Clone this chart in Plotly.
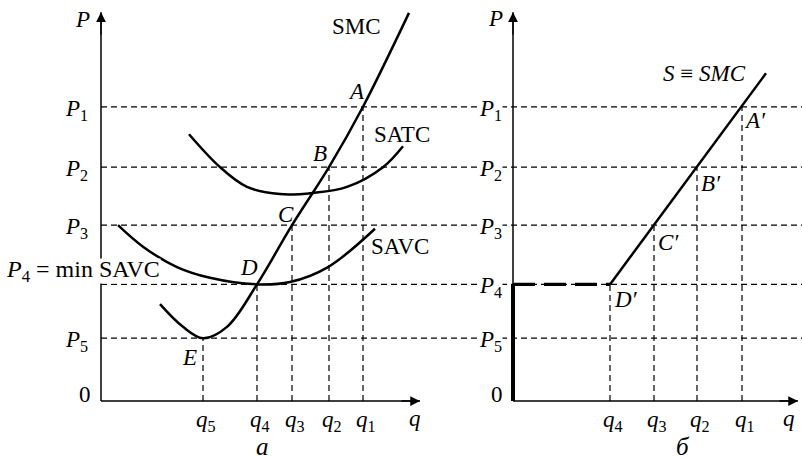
import plotly.graph_objects as go

W, H = 802, 458

# ---------------- data ----------------
P_NAMES = ["1", "2", "3", "4", "5"]
P_LEVELS = [4.92, 3.91, 2.94, 1.95, 1.05]          # P1..P5
Q_NAMES_L = ["1", "2", "3", "4", "5"]
Q_LEFT = [5.24, 4.56, 3.82, 3.12, 2.04]             # q1..q5 (panel a)
Q_NAMES_R = ["1", "2", "3", "4"]
Q_RIGHT = [4.58, 3.68, 2.82, 1.94]                  # q1..q4 (panel б)

POINTS_L = ["A", "B", "C", "D", "E"]
POINTS_R = ["A′", "B′", "C′", "D′"]

SMC_Q = [1.18, 1.64, 2.04, 2.52, 3.12, 3.82, 4.56, 5.24, 6.16]
SMC_P = [1.62, 1.24, 1.05, 1.24, 1.95, 2.94, 3.91, 4.92, 6.49]

SATC_Q = [1.76, 2.38, 2.92, 3.58, 4.24, 4.92, 5.64, 6.04]
SATC_P = [4.46, 3.91, 3.58, 3.46, 3.48, 3.58, 3.91, 4.26]

SAVC_Q = [0.34, 0.84, 1.52, 2.18, 3.12, 3.78, 4.54, 5.48]
SAVC_P = [2.94, 2.58, 2.24, 2.06, 1.95, 1.99, 2.24, 2.88]

SUPPLY_Q = [1.94, 2.82, 3.68, 4.58, 5.06]
SUPPLY_P = [1.95, 2.94, 3.91, 4.92, 5.48]

# ---------------- layout geometry ----------------
FONT = "Liberation Serif"
FS = 23
X_END_L, X_END_R, Y_END = 6.38, 5.70, 6.50
XR_L = [-0.4, 6.6]
XR_R = [-0.4, 5.78]
YR = [-0.25, 6.6]
PXX, PXY = 50.0, 59.8      # px per unit
OX_L, OX_R, OY = 101, 513, 401

def xdom(ox, rng):
    return [max(0, (ox + rng[0] * PXX) / W), min(1, (ox + rng[1] * PXX) / W)]

ydom = [(H - (OY - YR[0] * PXY)) / H, (H - (OY - YR[1] * PXY)) / H]

fig = go.Figure()
black = "black"
DASH = "6px,4px"

def line(x, y, xa, ya, width=1.3, dash=None, shape="linear"):
    fig.add_trace(go.Scatter(x=x, y=y, xaxis=xa, yaxis=ya, mode="lines",
                             line=dict(color=black, width=width, dash=dash, shape=shape, smoothing=1.0),
                             hoverinfo="skip", showlegend=False))

# axes lines
line([0, X_END_L], [0, 0], "x", "y", 1.5)
line([0, 0], [0, Y_END], "x", "y", 1.5)
line([0, X_END_R], [0, 0], "x2", "y2", 1.5)
line([0, 0], [0, Y_END], "x2", "y2", 1.5)

# vertical dashed guides
for q, p in zip(Q_LEFT, P_LEVELS):
    line([q, q], [0, p], "x", "y", 1.2, DASH)
for q, p in zip(Q_RIGHT, P_LEVELS[:4]):
    line([q, q], [0, p], "x2", "y2", 1.2, DASH)

# curves
line(SMC_Q, SMC_P, "x", "y", 2.5, None, "spline")
line(SATC_Q, SATC_P, "x", "y", 2.5, None, "spline")
line(SAVC_Q, SAVC_P, "x", "y", 2.5, None, "spline")
line(SUPPLY_Q, SUPPLY_P, "x2", "y2", 2.5)
line([0, 0], [0, P_LEVELS[3]], "x2", "y2", 4)
line([0, Q_RIGHT[3]], [P_LEVELS[3], P_LEVELS[3]], "x2", "y2", 3.2, "22px,9px")

# horizontal dashed guides across both panels
shapes = []
for p in P_LEVELS:
    shapes.append(dict(type="line", xref="paper", yref="y", x0=OX_L / W, x1=1, y0=p, y1=p,
                       line=dict(color=black, width=1.2, dash=DASH), layer="below"))

ann = []
def txt(text, x, y, xref, yref, xs=0, ys=0, xa="center", ya="middle", size=FS, bg=None, **kw):
    d = dict(text=text, x=x, y=y, xref=xref, yref=yref, xshift=xs, yshift=ys,
             xanchor=xa, yanchor=ya, showarrow=False,
             font=dict(family=FONT, size=size, color=black))
    if bg:
        d["bgcolor"] = bg
    d.update(kw)
    ann.append(d)

def arrow(x, y, ax, ay, xref, yref):
    ann.append(dict(x=x, y=y, ax=ax, ay=ay, xref=xref, yref=yref, axref=xref, ayref=yref,
                    text="", showarrow=True, arrowhead=2, arrowsize=1.5, arrowwidth=1.3,
                    arrowcolor=black, standoff=0))

arrow(X_END_L, 0, X_END_L - 0.4, 0, "x", "y")
arrow(0, Y_END, 0, Y_END - 0.4, "x", "y")
arrow(X_END_R, 0, X_END_R - 0.4, 0, "x2", "y2")
arrow(0, Y_END, 0, Y_END - 0.4, "x2", "y2")

# axis titles & zeros
txt("<i>P</i>", 0, Y_END, "x", "y", -19, -7)
txt("<i>P</i>", 0, Y_END, "x2", "y2", -18, -6)
txt("<i>q</i>", X_END_L, 0, "x", "y", -5, -17)
txt("<i>q</i>", X_END_R, 0, "x2", "y2", -9, -17)
txt("0", 0, 0, "x", "y", -16, 7)
txt("0", 0, 0, "x2", "y2", -16, 7)

# price labels
for name, p in zip(P_NAMES, P_LEVELS):
    lab = f"<i>P</i><sub>{name}</sub>"
    if name == "4":
        txt(lab + " = min SAVC", 0, p, "x", "y", 60, 13, xa="right", size=24,
            bg="white", borderpad=0, height=24)
    else:
        txt(lab, 0, p, "x", "y", -11, -3, xa="right")
    txt(lab, 0, p, "x2", "y2", -10, -3, xa="right", bg="white", borderpad=0)

# quantity labels
for name, q in zip(Q_NAMES_L, Q_LEFT):
    txt(f"<i>q</i><sub>{name}</sub>", q, 0, "x", "y", 3, -20)
for name, q in zip(Q_NAMES_R, Q_RIGHT):
    txt(f"<i>q</i><sub>{name}</sub>", q, 0, "x2", "y2", 3, -20)

# point labels
shifts_L = [(-7, 15), (-9, 14), (-6, 11), (-8, 17), (-14, -19)]
pts_L = [(Q_LEFT[i], P_LEVELS[i]) for i in range(5)]
for name, (q, p), (xs, ys) in zip(POINTS_L, pts_L, shifts_L):
    txt(f"<i>{name}</i>", q, p, "x", "y", xs, ys)
shifts_R = [(13, -14), (14, -16), (14, -17), (16, -15)]
for name, q, p, (xs, ys) in zip(POINTS_R, Q_RIGHT, P_LEVELS[:4], shifts_R):
    txt(f"<i>{name}</i>", q, p, "x2", "y2", xs, ys)

# curve labels
txt("SMC", SMC_Q[-1], SMC_P[-1], "x", "y", -53, -14)
txt("SATC", SATC_Q[-1], SATC_P[-1], "x", "y", -31, 12, xa="left")
txt("SAVC", SAVC_Q[-1], SAVC_P[-1], "x", "y", -6, -18, xa="left")
txt("<i>S</i> ≡ <i>SMC</i>", SUPPLY_Q[-1], SUPPLY_P[-1], "x2", "y2", -18, 0, xa="right")

# panel captions
for cap, cx, cy in [("а", 262, 446), ("б", 683, 446)]:
    ann.append(dict(text=f"<i>{cap}</i>", x=cx / W, y=(H - cy) / H, xref="paper", yref="paper",
                    showarrow=False, xanchor="center", yanchor="middle", height=22, valign="middle",
                    font=dict(family=FONT, size=25, color=black)))

ax_common = dict(visible=False, showgrid=False, zeroline=False, fixedrange=True)
fig.update_layout(
    width=W, height=H, margin=dict(l=0, r=0, t=0, b=0),
    paper_bgcolor="white", plot_bgcolor="rgba(0,0,0,0)",
    xaxis=dict(domain=xdom(OX_L, XR_L), range=XR_L, **ax_common),
    yaxis=dict(domain=ydom, range=YR, **ax_common),
    xaxis2=dict(domain=xdom(OX_R, XR_R), range=XR_R, anchor="y2", **ax_common),
    yaxis2=dict(domain=ydom, range=YR, anchor="x2", **ax_common),
    shapes=shapes, annotations=ann, showlegend=False,
)

fig.write_html("out.html", config={"displayModeBar": False},
               post_script="document.body.style.margin='0';document.body.style.overflow='hidden';")
